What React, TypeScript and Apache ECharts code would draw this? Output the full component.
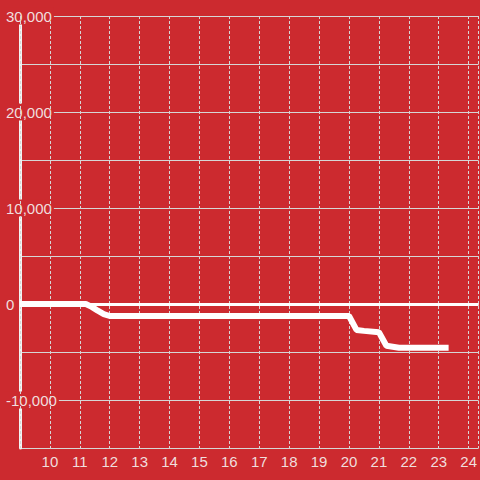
import React, { useEffect, useRef } from "react";
import * as echarts from "echarts";

const hours = [9, 11.2, 11.4, 11.6, 11.8, 12, 20, 20.25, 20.5, 21, 21.25, 21.67, 23.33];
const values = [0, 0, -300, -700, -1050, -1250, -1250, -2700, -2800, -2950, -4350, -4550, -4550];
const yMin = -15000;
const yMax = 30000;
const xMin = 9;
const xMax = 24.333;

const BG = "#cc2a2f";
const TEXT = "#f0dede";
const GRID = "#d6d6d6";

export default function App() {
  const ref = useRef<HTMLDivElement>(null);
  useEffect(() => {
    if (!ref.current) return;
    const chart = echarts.init(ref.current, null, { renderer: "svg" });
    const data = hours.map((h, i) => [h, values[i]]);
    chart.setOption({
      animation: false,
      backgroundColor: BG,
      grid: { left: 20, right: 0, top: 16, bottom: 32, containLabel: false },
      xAxis: {
        type: "value",
        min: xMin,
        max: xMax,
        interval: 1,
        z: 4,
        axisLine: { show: false },
        axisTick: { show: false },
        axisLabel: {
          color: TEXT,
          fontSize: 15,
          fontFamily: "Liberation Sans, Arial, sans-serif",
          margin: 6,
          showMinLabel: false,
          showMaxLabel: false,
          formatter: (v: number) => (Number.isInteger(v) && v > xMin ? String(v) : ""),
        },
        splitLine: { show: true, lineStyle: { color: GRID, width: 1, type: [3, 2] } },
      },
      yAxis: [
        {
          type: "value",
          min: yMin,
          max: yMax,
          interval: 5000,
          z: 0,
          axisLine: { show: false },
          axisTick: { show: false },
          axisLabel: { show: false },
          splitLine: { show: true, lineStyle: { color: GRID, width: 1 } },
        },
        {
          type: "value",
          position: "left",
          min: yMin,
          max: yMax,
          interval: 5000,
          z: 3,
          axisLine: { show: true, onZero: false, lineStyle: { color: "#f2f2f2", width: 3 } },
          axisTick: { show: false },
          splitLine: { show: false },
          axisLabel: {
            color: TEXT,
            fontSize: 15,
            fontFamily: "Liberation Sans, Arial, sans-serif",
            align: "left",
            margin: 16,
            backgroundColor: BG,
            padding: [1, 2],
            formatter: (v: number) =>
              v % 10000 === 0 ? v.toLocaleString("en-US") : "",
          },
        },
      ],
      series: [
        {
          type: "line",
          yAxisIndex: 0,
          data,
          showSymbol: false,
          symbol: "none",
          z: 5,
          lineStyle: { color: "#ffffff", width: 6 },
          markLine: {
            silent: true,
            symbol: "none",
            label: { show: false },
            lineStyle: { color: "#ffffff", width: 3, type: "solid" },
            data: [{ yAxis: 0 }],
          },
        },
      ],
    });
    return () => chart.dispose();
  }, []);
  return (
    <div
      ref={ref}
      style={{ position: "fixed", left: 0, top: 0, width: 480, height: 480, background: BG }}
    />
  );
}
